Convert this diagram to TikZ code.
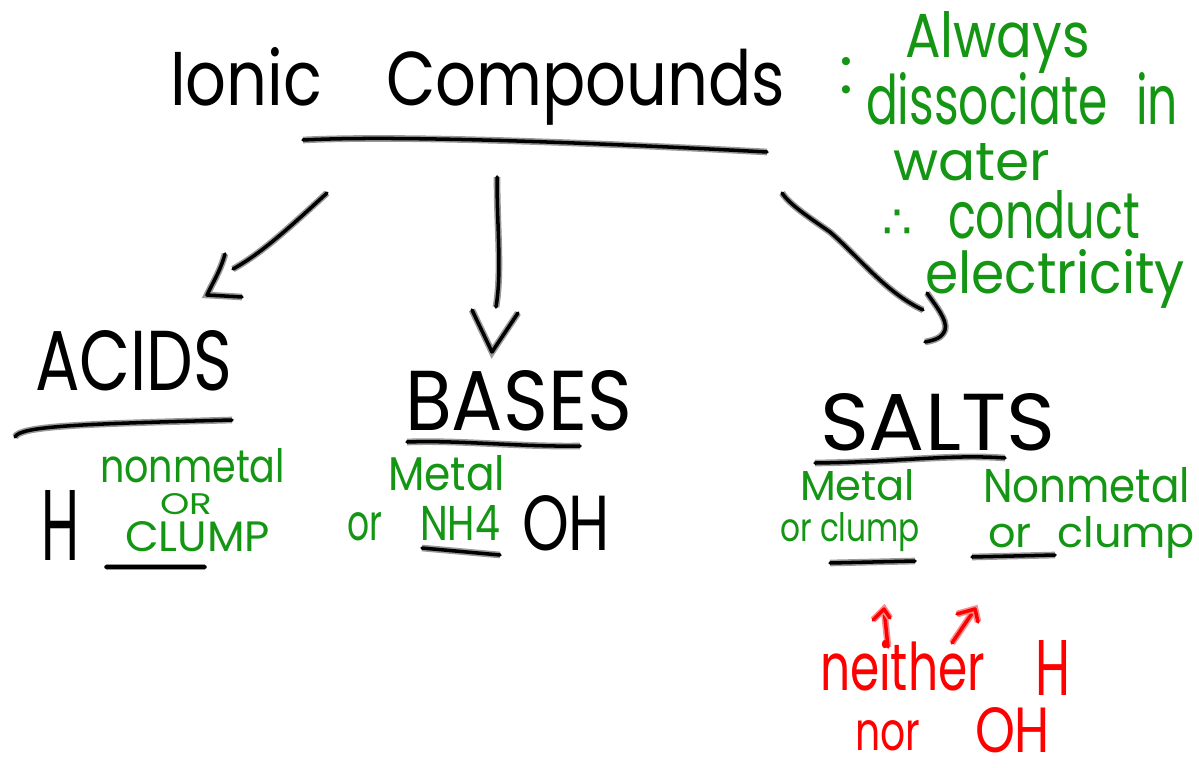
\documentclass[tikz,border=0pt]{standalone}
\usepackage{fontspec}
\setmainfont{Poppins}
\newfontfamily\symfont{DejaVu Sans}
\usepackage{graphicx}
\newlength\upx \setlength\upx{0.02cm}
\newcommand{\hw}[3]{\resizebox{#1\upx}{#2\upx}{#3}}
\definecolor{inkgreen}{RGB}{20,150,20}
\definecolor{halogreen}{RGB}{130,205,130}
\definecolor{inkred}{RGB}{255,0,0}
\definecolor{halored}{RGB}{255,140,140}
\tikzset{
  ink/.style={draw=black, line width=2pt, line cap=round, line join=round,
    preaction={draw=black!40, line width=3.8pt}},
  redink/.style={draw=inkred, line width=2pt, line cap=round, line join=round,
    preaction={draw=halored, line width=3.8pt}},
  txt/.style={inner sep=0pt, outer sep=0pt, anchor=base west, text=black},
  gtxt/.style={txt, text=inkgreen},
  rtxt/.style={txt, text=inkred}
}
\begin{document}
\begin{tikzpicture}[x=0.02cm, y=-0.02cm]
\useasboundingbox (0,0) rectangle (1199,767);
\fill[white] (0,0) rectangle (1199,767);

% ---- title ----
\node[txt] (ionic) at (170,105) {\hw{615}{58}{Ionic\hspace{1em}Compounds}};
\coordinate (u0a) at (303,140); \coordinate (u0b) at (767,152);
\draw[ink] (u0a) .. controls (400,135) and (600,143) .. (u0b);

% ---- green annotation ----
\node[gtxt] (colon) at (839,94) {\resizebox{!}{36\upx}{:}};
\node[gtxt] (always) at (905,58) {\hw{185}{46}{Always}};
\node[gtxt] (dissoc) at (866,124) {\hw{312}{52}{dissociate\hspace{0.6em}in}};
\node[gtxt] (water) at (893,180) {\hw{157}{37}{water}};
\node[gtxt] (therefore) at (882,238) {\resizebox{30\upx}{!}{\symfont ∴}};
\node[gtxt] (conduct) at (948,238) {\hw{192}{48}{conduct}};
\node[gtxt] (elec) at (925,293) {\hw{260}{44}{electricity}};

% ---- arrows ----
\coordinate (a1s) at (327,193); \coordinate (a1e) at (233,269);
\coordinate (h1a) at (225,254); \coordinate (h1t) at (207,295); \coordinate (h1b) at (242,297);
\draw[ink] (a1s) .. controls (290,227) and (262,253) .. (a1e);
\draw[ink] (h1a) .. controls (220,272) and (212,284) .. (h1t) -- (h1b);

\coordinate (a2s) at (497,177); \coordinate (a2e) at (496,307);
\coordinate (h2a) at (472,310); \coordinate (h2t) at (492,352); \coordinate (h2b) at (518,313);
\draw[ink] (a2s) .. controls (497,230) and (502,270) .. (a2e);
\draw[ink] (h2a) -- (h2t) -- (h2b);

\coordinate (a3s) at (782,193); \coordinate (a3m) at (830,232); \coordinate (a3e) at (923,310);
\coordinate (h3a) at (927,293); \coordinate (h3m) at (945,330); \coordinate (h3b) at (925,342);
\draw[ink] (a3s) .. controls (790,205) and (810,218) .. (a3m) .. controls (860,258) and (885,292) .. (a3e);
\draw[ink] (h3a) .. controls (935,305) and (948,320) .. (h3m) .. controls (942,338) and (935,340) .. (h3b);

% ---- headings ----
\node[txt] (acids) at (35,390) {\hw{197}{60}{ACIDS}};
\coordinate (u1a) at (15,437); \coordinate (u1b) at (232,420);
\draw[ink] (u1a) .. controls (20,426) and (80,424) .. (u1b);

\node[txt] (bases) at (405,430) {\hw{227}{60}{BASES}};
\coordinate (u2a) at (407,442); \coordinate (u2b) at (580,446);
\draw[ink] (u2a) .. controls (460,440) and (520,447) .. (u2b);

\node[txt] (salts) at (820,450) {\hw{235}{57}{SALTS}};
\coordinate (u3a) at (815,463); \coordinate (u3b) at (1005,458);
\draw[ink] (u3a) .. controls (900,462) and (950,454) .. (u3b);

% ---- acids formula ----
\node[txt] (hA) at (42,560) {\hw{38}{70}{H}};
\node[gtxt] (nonmA) at (100,482) {\hw{185}{34}{nonmetal}};
\node[gtxt] (orA) at (160,514) {\hw{52}{21}{OR}};
\node[gtxt] (clumpA) at (125,551) {\hw{145}{30}{CLUMP}};
\coordinate (u4a) at (106,567); \coordinate (u4b) at (205,567);
\draw[ink] (u4a) -- (u4b);

% ---- bases formula ----
\node[gtxt] (metalB) at (388,490) {\hw{117}{35}{Metal}};
\node[gtxt] (orB) at (347,540) {\hw{35}{28}{or}};
\node[gtxt] (nh4) at (420,540) {\hw{80}{35}{NH4}};
\node[txt] (ohB) at (522,550) {\hw{88}{55}{OH}};
\coordinate (u5a) at (422,548); \coordinate (u5b) at (500,555);
\draw[ink] (u5a) -- (u5b);

% ---- salts formula ----
\node[gtxt] (metalS) at (800,500) {\hw{115}{31}{Metal}};
\node[gtxt] (clumpS1) at (780,541) {\hw{140}{29}{or clump}};
\node[gtxt] (nonmS) at (983,502) {\hw{207}{35}{Nonmetal}};
\node[gtxt] (clumpS2) at (988,547) {\hw{207}{31}{or\hspace{0.6em}clump}};
\coordinate (u6a) at (830,563); \coordinate (u6b) at (915,561);
\draw[ink] (u6a) -- (u6b);
\coordinate (u7a) at (972,557); \coordinate (u7b) at (1055,555);
\draw[ink] (u7a) -- (u7b);

% ---- red note ----
\coordinate (r1s) at (888,647); \coordinate (r1e) at (884,609);
\coordinate (r1a) at (873,620); \coordinate (r1b) at (890,618);
\draw[redink] (r1s) -- (r1e);
\draw[redink] (r1a) -- (r1e) -- (r1b);
\coordinate (r2s) at (952,643); \coordinate (r2e) at (975,609);
\coordinate (r2a) at (957,614); \coordinate (r2b) at (978,622);
\draw[redink] (r2s) -- (r2e);
\draw[redink] (r2a) -- (r2e) -- (r2b);

\node[rtxt] (neither) at (820,690) {\hw{165}{50}{neither}};
\node[rtxt] (hR) at (1035,695) {\hw{35}{55}{H}};
\node[rtxt] (nor) at (855,750) {\hw{65}{30}{nor}};
\node[rtxt] (ohR) at (975,752) {\hw{75}{45}{OH}};
\end{tikzpicture}
\end{document}
